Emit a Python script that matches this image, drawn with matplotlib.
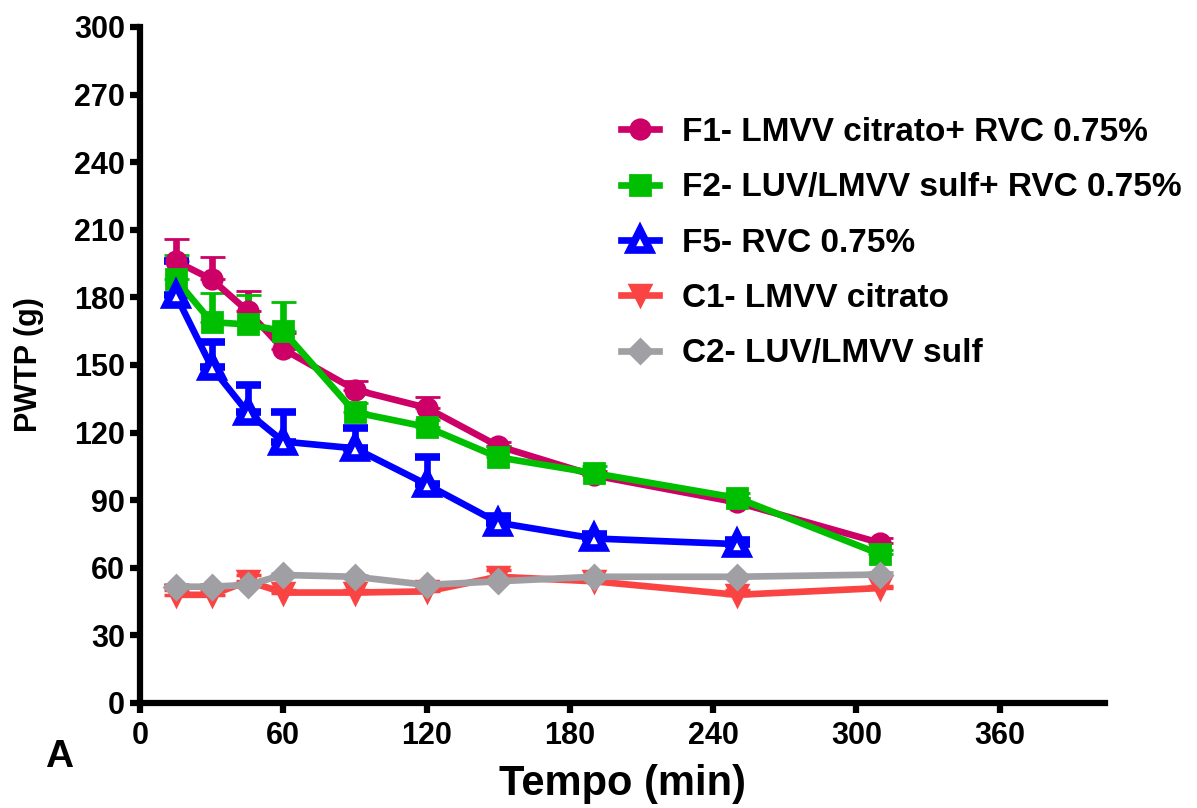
import numpy as np
import matplotlib
matplotlib.use("Agg")
import matplotlib.pyplot as plt

plt.rcParams['font.family'] = ['Liberation Sans', 'DejaVu Sans']
plt.rcParams['font.weight'] = 'bold'

# tempo (min)
t_all = [15, 30, 45, 60, 90, 120, 150, 190, 250, 310]
t_f5 = [15, 30, 45, 60, 90, 120, 150, 190, 250]

# PWTP (g) médias e erro (só para cima)
f1_y = [196, 188, 174, 157, 139, 131, 114, 101, 89, 71]
f1_err = [10, 10, 9, 7, 4, 5, 2, 2, 2, 2]
f2_y = [188, 169, 168, 165, 129, 122.5, 109, 102, 91, 66]
f2_err = [11, 13, 13, 13, 4, 3, 5, 3, 2, 2]
f5_y = [181, 149, 129, 116, 113, 97, 80, 73, 70.5]
f5_err = [15, 11, 12, 13, 9, 12, 3, 2, 2]
c1_y = [48, 48, 54, 49, 49, 49.5, 56, 54, 48, 51]
c1_err = [2, 2, 3, 1, 1, 2, 3, 2, 2, 1]
c2_y = [51.6, 51.6, 52.4, 56.8, 56, 52.4, 54, 56, 56, 57]
c2_err = [1, 1, 1, 1, 1, 1, 1, 1, 1, 1]

labels = ['F1- LMVV citrato+ RVC 0.75%',
          'F2- LUV/LMVV sulf+ RVC 0.75%',
          'F5- RVC 0.75%',
          'C1- LMVV citrato',
          'C2- LUV/LMVV sulf']

fig = plt.figure(figsize=(11.97, 8.08), dpi=100)
ax = fig.add_axes([0.117, 0.13, 0.806, 0.8366])

lw = 4.8
common = dict(lw=lw, elinewidth=lw, capsize=9, capthick=5)

series = [
    (t_all, f1_y, f1_err, '#CC0066', 'o', 14, None, 2),
    (t_all, f2_y, f2_err, '#00BF00', 's', 14, None, 2),
    (t_f5, f5_y, f5_err, '#0000FF', '^', 14, 'white', 5.5),
    (t_all, c1_y, c1_err, '#FA4444', 'v', 15, None, 2.5),
    (t_all, c2_y, c2_err, '#A0A0A4', 'D', 12.5, None, 2),
]

handles = []
for (x, y, e, col, mk, ms, face, mew) in series:
    lo = np.zeros(len(e))
    eb = ax.errorbar(x, y, yerr=[lo, e], color=col, marker=mk, ms=ms,
                     mfc=face if face else col, mec=col, mew=mew, **common)
    handles.append(eb[0])

ax.set_xlim(0, 404)
ax.set_ylim(0, 300)
ax.set_xticks(np.arange(0, 361, 60))
ax.set_yticks(np.arange(0, 301, 30))

for s in ['top', 'right']:
    ax.spines[s].set_visible(False)
for s in ['left', 'bottom']:
    ax.spines[s].set_linewidth(4.5)

ax.tick_params(axis='both', direction='out', length=7, width=4.5, labelsize=22)
ax.tick_params(axis='x', pad=6)
ax.tick_params(axis='y', pad=4)

ax.set_xlabel('Tempo (min)', fontsize=30, fontweight='bold')
ax.set_ylabel('PWTP (g)', fontsize=22, fontweight='bold')
ax.xaxis.set_label_coords(0.5, -0.09)
ax.yaxis.set_label_coords(-0.1, 0.5)

fig.text(59 / 1197, 1 - 767 / 808, 'A', ha='center', va='baseline',
         fontsize=28, fontweight='bold')

ax.legend(handles, labels, loc='upper left',
          bbox_to_anchor=(0.5188, 0.855), bbox_transform=fig.transFigure,
          frameon=False, fontsize=24, handlelength=1.15, handletextpad=0.69,
          labelspacing=0.73, borderpad=0, borderaxespad=0, numpoints=1)

fig.savefig('out.png', dpi=100)
